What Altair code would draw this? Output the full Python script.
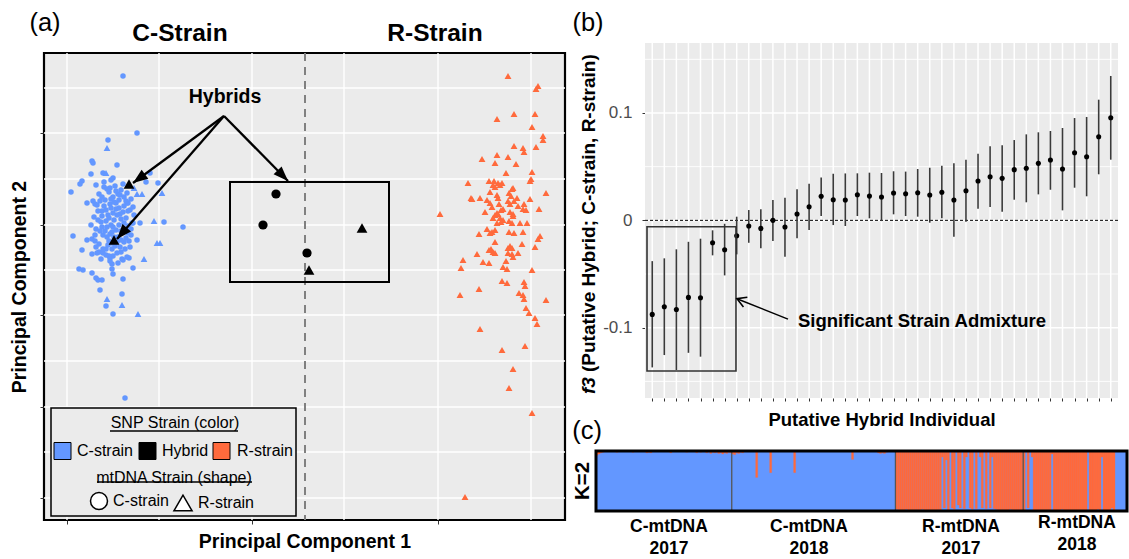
import math
import altair as alt
import pandas as pd

FONT = "Liberation Sans"
BLUE = "#6397FF"
ORANGE = "#FF6A3C"
BG = "#EBEBEB"

# ---------------- (a) PCA scores (PC1, PC2) ----------------
blue_circles = [
    (-0.129, 0.239), (-0.115, 0.182), (-0.144, 0.175), (-0.160, 0.154), (-0.159, 0.152),
    (-0.135, 0.150), (-0.161, 0.141), (-0.149, 0.142), (-0.102, 0.142), (-0.139, 0.137),
    (-0.170, 0.134), (-0.172, 0.131), (-0.181, 0.123), (-0.156, 0.130), (-0.148, 0.133),
    (-0.141, 0.135), (-0.129, 0.131), (-0.106, 0.133), (-0.094, 0.132), (-0.165, 0.112),
    (-0.159, 0.114), (-0.157, 0.111), (-0.125, 0.112), (-0.124, 0.104), (-0.120, 0.092),
    (-0.112, 0.092), (-0.088, 0.093), (-0.069, 0.088), (-0.179, 0.079), (-0.165, 0.075),
    (-0.115, 0.075), (-0.170, 0.065), (-0.160, 0.061), (-0.153, 0.063), (-0.149, 0.062),
    (-0.142, 0.057), (-0.130, 0.056), (-0.123, 0.057), (-0.140, 0.051), (-0.140, 0.046),
    (-0.139, 0.041), (-0.119, 0.047), (-0.173, 0.046), (-0.169, 0.045), (-0.160, 0.042),
    (-0.156, 0.037), (-0.154, 0.035), (-0.150, 0.035), (-0.129, 0.036), (-0.152, 0.025),
    (-0.130, 0.021), (-0.146, 0.009), (-0.139, 0.001), (-0.127, -0.083),
]
# dense core of the C-strain cluster
blue_core = [
    (-0.148, 0.128), (-0.137, 0.129), (-0.131, 0.125), (-0.143, 0.123), (-0.153, 0.121),
    (-0.125, 0.122), (-0.139, 0.118), (-0.147, 0.115), (-0.133, 0.115), (-0.121, 0.116),
    (-0.155, 0.110), (-0.142, 0.111), (-0.128, 0.109), (-0.136, 0.106), (-0.150, 0.104),
    (-0.122, 0.105), (-0.144, 0.100), (-0.132, 0.101), (-0.158, 0.098), (-0.126, 0.097),
    (-0.138, 0.095), (-0.151, 0.093), (-0.119, 0.092), (-0.133, 0.090), (-0.145, 0.088),
    (-0.156, 0.086), (-0.127, 0.085), (-0.140, 0.083), (-0.149, 0.080), (-0.121, 0.080),
    (-0.134, 0.078), (-0.160, 0.076), (-0.143, 0.074), (-0.128, 0.073), (-0.153, 0.071),
    (-0.137, 0.069), (-0.122, 0.068), (-0.146, 0.066), (-0.131, 0.063), (-0.139, 0.059),
    (-0.155, 0.062), (-0.125, 0.058), (-0.142, 0.054), (-0.134, 0.052), (-0.151, 0.056),
    (-0.141, 0.107), (-0.134, 0.121), (-0.146, 0.094), (-0.131, 0.096), (-0.139, 0.088),
    (-0.142, 0.081), (-0.135, 0.073), (-0.129, 0.103), (-0.152, 0.084), (-0.124, 0.112),
    (-0.140, 0.066), (-0.148, 0.109), (-0.156, 0.068), (-0.118, 0.100), (-0.161, 0.090),
    (-0.145, 0.126), (-0.128, 0.118), (-0.152, 0.114), (-0.136, 0.112), (-0.124, 0.089),
    (-0.157, 0.080), (-0.131, 0.084), (-0.144, 0.070), (-0.126, 0.077), (-0.150, 0.099),
    (-0.135, 0.100), (-0.141, 0.116), (-0.121, 0.086), (-0.147, 0.084), (-0.132, 0.068),
    (-0.138, 0.078), (-0.154, 0.104), (-0.127, 0.066), (-0.143, 0.059), (-0.136, 0.124),
    (-0.142, 0.127), (-0.132, 0.120), (-0.150, 0.118), (-0.138, 0.113), (-0.126, 0.114),
    (-0.146, 0.105), (-0.133, 0.107), (-0.139, 0.102), (-0.154, 0.095), (-0.128, 0.092),
    (-0.143, 0.097), (-0.136, 0.085), (-0.150, 0.088), (-0.124, 0.082), (-0.145, 0.078),
    (-0.131, 0.075), (-0.140, 0.072), (-0.149, 0.066), (-0.135, 0.062), (-0.123, 0.074),
    (-0.157, 0.074), (-0.129, 0.055), (-0.146, 0.060), (-0.119, 0.108), (-0.141, 0.090),
]
blue_triangles = [
    (-0.145, 0.167), (-0.146, 0.142), (-0.118, 0.127), (-0.115, 0.121), (-0.110, 0.121),
    (-0.090, 0.122), (-0.098, 0.094), (-0.095, 0.072), (-0.092, 0.072), (-0.108, 0.056),
    (-0.145, 0.016), (-0.130, 0.010), (-0.114, 0.001),
]
orange_triangles = [
    (0.256, 0.239), (0.286, 0.229), (0.284, 0.226), (0.245, 0.196), (0.262, 0.201),
    (0.283, 0.201), (0.280, 0.188), (0.291, 0.179), (0.291, 0.175), (0.262, 0.169),
    (0.271, 0.167), (0.272, 0.163), (0.284, 0.168), (0.230, 0.156), (0.245, 0.160),
    (0.256, 0.158), (0.243, 0.152), (0.264, 0.151), (0.254, 0.142), (0.280, 0.143),
    (0.279, 0.136), (0.278, 0.134), (0.216, 0.132), (0.237, 0.134), (0.242, 0.134),
    (0.246, 0.132), (0.250, 0.132), (0.248, 0.130), (0.243, 0.128), (0.241, 0.130),
    (0.261, 0.127), (0.260, 0.126), (0.294, 0.122), (0.219, 0.117), (0.220, 0.116),
    (0.228, 0.117), (0.238, 0.123), (0.245, 0.120), (0.257, 0.122), (0.259, 0.119),
    (0.265, 0.117), (0.278, 0.116), (0.235, 0.115), (0.238, 0.112), (0.246, 0.117),
    (0.247, 0.111), (0.256, 0.114), (0.258, 0.111), (0.262, 0.114), (0.272, 0.111),
    (0.266, 0.109), (0.240, 0.108), (0.249, 0.105), (0.251, 0.106), (0.271, 0.106),
    (0.274, 0.105), (0.287, 0.106), (0.233, 0.103), (0.258, 0.103), (0.261, 0.101),
    (0.261, 0.099), (0.243, 0.100), (0.245, 0.102), (0.246, 0.101), (0.241, 0.097),
    (0.248, 0.097), (0.251, 0.095), (0.249, 0.093), (0.257, 0.094), (0.260, 0.092),
    (0.188, 0.101), (0.268, 0.092), (0.275, 0.092), (0.245, 0.092), (0.227, 0.081),
    (0.235, 0.086), (0.238, 0.082), (0.240, 0.083), (0.243, 0.085), (0.257, 0.083),
    (0.262, 0.082), (0.271, 0.083), (0.288, 0.079), (0.286, 0.076), (0.243, 0.073),
    (0.270, 0.071), (0.283, 0.068), (0.237, 0.065), (0.239, 0.066), (0.241, 0.063),
    (0.243, 0.062), (0.256, 0.067), (0.258, 0.069), (0.260, 0.067), (0.256, 0.062),
    (0.260, 0.061), (0.261, 0.058), (0.266, 0.062), (0.225, 0.061), (0.211, 0.055),
    (0.231, 0.053), (0.237, 0.052), (0.254, 0.054), (0.251, 0.048), (0.255, 0.046),
    (0.209, 0.047), (0.280, 0.045), (0.250, 0.034), (0.255, 0.032), (0.272, 0.033),
    (0.273, 0.029), (0.227, 0.026), (0.208, 0.020), (0.267, 0.022), (0.271, 0.020),
    (0.272, 0.016), (0.294, 0.015), (0.274, 0.007), (0.277, 0.002), (0.283, -0.003),
    (0.285, -0.009), (0.228, -0.014), (0.273, -0.031), (0.250, -0.035), (0.261, -0.054),
    (0.257, -0.073), (0.280, -0.098), (0.213, -0.182),
]
hybrid_circles = [(0.024, 0.121), (0.011, 0.090), (0.055, 0.062)]
hybrid_triangles = [(0.057, 0.045), (0.110, 0.087), (-0.123, 0.131), (-0.138, 0.075)]

a_x_domain = [-0.208, 0.313]
a_y_domain = [-0.205, 0.262]
a_x_major = [-0.185, 0.0, 0.186]
a_x_minor = [-0.093, 0.092, 0.279]
a_y_major = [-0.183, -0.092, 0.0, 0.090, 0.182]
a_y_minor = [-0.137, -0.046, 0.045, 0.136, 0.227]
strain_split = [0.053]
hybrid_box = [(-0.022, 0.137, 0.033, 0.133)]
arrow_start = (-0.028, 0.199)
arrow_tips = [(-0.119, 0.132), (-0.135, 0.076), (0.036, 0.134)]
hybrids_label = [(-0.027, 0.218, "Hybrids")]

# ---------------- (b) f3 statistics ----------------
f3_est = [-0.0876, -0.0805, -0.083, -0.0718, -0.0721, -0.0209, -0.0274, -0.0143, -0.0053, -0.0075,
          0.0, -0.0062, 0.0059, 0.0127, 0.0224, 0.0192, 0.0189, 0.0239, 0.0226, 0.0217,
          0.0254, 0.0248, 0.0257, 0.0236, 0.0261, 0.0189, 0.0276, 0.0366, 0.0406, 0.0391,
          0.0472, 0.0485, 0.0531, 0.0562, 0.0478, 0.063, 0.0593, 0.0779, 0.0956]
f3_hi = [-0.038, -0.0354, -0.027, -0.020, -0.0171, -0.0093, -0.0032, 0.0034, 0.0096, 0.0103,
         0.0189, 0.021, 0.0289, 0.0341, 0.040, 0.0434, 0.0437, 0.0438, 0.0444, 0.0441,
         0.0457, 0.0454, 0.0478, 0.049, 0.0509, 0.0531, 0.0565, 0.0621, 0.069, 0.0699,
         0.0748, 0.0801, 0.082, 0.0832, 0.086, 0.0953, 0.0963, 0.1124, 0.1345]
f3_lo = [-0.137, -0.1255, -0.1395, -0.1234, -0.127, -0.0326, -0.0513, -0.0317, -0.0209, -0.0261,
         -0.0193, -0.034, -0.0168, -0.009, 0.004, -0.0044, -0.0053, 0.004, 0.0019, -0.0007,
         0.0056, 0.004, 0.0034, -0.0022, 0.0019, -0.0153, -0.0013, 0.0108, 0.0124, 0.008,
         0.0192, 0.0168, 0.0242, 0.0285, 0.0093, 0.0304, 0.0224, 0.0429, 0.0565]
b_x_domain = [0.4, 39.6]
b_y_domain = [-0.1655, 0.1652]
b_y_major = [-0.1, 0.0, 0.1]
b_y_minor = [-0.15, -0.05, 0.05, 0.15]
signif_box = [(0.566, 7.94, -0.1404, -0.006)]
signif_arrow = [(12.25, -0.092, 8.02, -0.073)]
signif_label = [(13.08, -0.0938, "Significant Strain Admixture")]

# ---------------- (c) ADMIXTURE K=2, proportion of C-strain ancestry ----------------
c_2017 = [0.93, 0.95, 0.97, 0.98, 1, 1, 1, 1, 1, 1,
          0.98, 1, 1, 1, 1, 1, 1, 1, 0.98, 1,
          1, 1, 1, 1, 1, 0.97, 0.98, 0.97, 1, 1,
          1, 1, 1, 1, 1, 1, 1, 0.97, 1, 1,
          1, 1, 1, 1, 1, 0.98, 1, 1, 1, 1,
          0.97, 1, 0.98, 1, 1, 0.97, 1, 0.96, 0.98, 0.97,
          0.98, 0.96, 0.97, 0.95, 0.97, 0.96, 0.98, 0.97]
c_2018 = [0.95, 0.94, 0.97, 0.96, 0.98, 0.97, 1, 1, 1, 1,
          1, 1, 0.56, 1, 1, 1, 1, 1, 1, 0.64,
          1, 1, 1, 1, 1, 1, 1, 1, 1, 1,
          1, 0.64, 1, 1, 1, 1, 1, 1, 1, 1,
          1, 1, 1, 1, 1, 1, 1, 1, 1, 1,
          1, 1, 1, 1, 1, 1, 1, 1, 1, 1,
          0.86, 1, 1, 1, 1, 1, 1, 1, 1, 1,
          1, 1, 1, 0.97, 0.96, 0.97, 0.96, 0.98, 1, 1,
          1, 1]
r_2017 = [0.03, 0.02, 0, 0, 0, 0.03, 0, 0, 0, 0,
          0.02, 0, 0, 0.03, 0, 0, 0, 0, 0, 0,
          0, 0.02, 0, 0.9, 0.05, 0.85, 0, 1, 0.05, 0.03,
          1, 0.1, 0.05, 1, 0.04, 0.9, 1, 0.05, 0.03, 1,
          0.04, 1, 0.9, 0.05, 1, 0.04, 1, 0.05, 0.9, 0.04,
          0.03, 0.02, 0, 0.02, 0, 0, 0, 0.03, 0.02, 0,
          0, 0, 0, 0]
r_2018 = [0, 1, 0.05, 1, 0.9, 0, 0, 0, 0, 0,
          0, 0, 0, 0, 0.95, 0, 0, 0, 0, 0.03,
          0, 0, 0, 0, 0, 0, 0, 0, 0, 0,
          0, 0, 1, 0, 0, 0, 0, 0.03, 0, 0.9,
          0, 0, 0, 0, 0.05, 0, 1, 1, 1, 1,
          1, 1]
group_names = ["C-mtDNA\n2017", "C-mtDNA\n2018", "R-mtDNA\n2017", "R-mtDNA\n2018"]

# ====================== helpers ======================
def one(**kw):
    return pd.DataFrame({k: [v] for k, v in kw.items()})


def txt(text, x, y, size, weight="normal", angle=0, align="center", baseline="middle",
        style="normal", line_height=None):
    kw = dict(fontSize=size, fontWeight=weight, angle=angle, align=align, baseline=baseline,
              fontStyle=style, color="black", font=FONT)
    if line_height:
        kw["lineBreak"] = "\n"
        kw["lineHeight"] = line_height
    return alt.Chart(one(t=text)).mark_text(**kw).encode(
        x=alt.value(x), y=alt.value(y), text="t:N")


# ====================== panel (a) ======================
A_W, A_H = 521, 467
SXA = alt.Scale(domain=a_x_domain, nice=False, zero=False)
SYA = alt.Scale(domain=a_y_domain, nice=False, zero=False)
AXA_X = alt.Axis(values=a_x_major, labels=False, domain=False, grid=False, tickSize=4,
                 tickColor="#333333", tickWidth=1, title="Principal Component 1",
                 titleFontSize=19.5, titleFontWeight="bold", titlePadding=8, titleColor="black")
AXA_Y = alt.Axis(values=a_y_major, labels=False, domain=False, grid=False, tickSize=4,
                 tickColor="#333333", tickWidth=1, title="Principal Component 2",
                 titleFontSize=19.5, titleFontWeight="bold", titlePadding=10, titleColor="black")


def XA(f):
    return alt.X(f, type="quantitative", scale=SXA, axis=AXA_X)


def YA(f):
    return alt.Y(f, type="quantitative", scale=SYA, axis=AXA_Y)


rows = []
for x, y in blue_circles + blue_core:
    rows.append(dict(pc1=x, pc2=y, snp="C-strain", mt="C-strain", sz=30))
for x, y in blue_triangles:
    rows.append(dict(pc1=x, pc2=y, snp="C-strain", mt="R-strain", sz=45))
for x, y in orange_triangles:
    rows.append(dict(pc1=x, pc2=y, snp="R-strain", mt="R-strain", sz=48))
for x, y in hybrid_circles:
    rows.append(dict(pc1=x, pc2=y, snp="Hybrid", mt="C-strain", sz=85))
for x, y in hybrid_triangles:
    rows.append(dict(pc1=x, pc2=y, snp="Hybrid", mt="R-strain", sz=115))
pts = pd.DataFrame(rows)

grid_v = alt.Chart(pd.DataFrame({"v": a_x_major + a_x_minor})).mark_rule(
    color="white", strokeWidth=1.4).encode(x=XA("v"))
grid_h = alt.Chart(pd.DataFrame({"v": a_y_major + a_y_minor})).mark_rule(
    color="white", strokeWidth=1.4).encode(y=YA("v"))
split = alt.Chart(pd.DataFrame({"v": strain_split})).mark_rule(
    color="#808080", strokeWidth=2, strokeDash=[8, 6]).encode(x=XA("v"))

points = alt.Chart(pts).mark_point(filled=True, opacity=1, strokeWidth=0).encode(
    x=XA("pc1"), y=YA("pc2"),
    color=alt.Color("snp:N", scale=alt.Scale(domain=["C-strain", "Hybrid", "R-strain"],
                                             range=[BLUE, "black", ORANGE]), legend=None),
    shape=alt.Shape("mt:N", scale=alt.Scale(domain=["C-strain", "R-strain"],
                                            range=["circle", "triangle-up"]), legend=None),
    size=alt.Size("sz:Q", scale=None),
)

box_df = pd.DataFrame(hybrid_box, columns=["x0", "x1", "y0", "y1"])
hyb_box = alt.Chart(box_df).mark_rect(fillOpacity=0, stroke="black", strokeWidth=2).encode(
    x=XA("x0"), x2="x1", y=YA("y0"), y2="y1")

arr_rows = []
for tx, ty in arrow_tips:
    ang = math.degrees(math.atan2(tx - arrow_start[0], ty - arrow_start[1])) % 360
    arr_rows.append(dict(x0=arrow_start[0], y0=arrow_start[1], x1=tx, y1=ty, ang=ang))
arr_df = pd.DataFrame(arr_rows)
arr_lines = alt.Chart(arr_df).mark_rule(color="black", strokeWidth=2.3).encode(
    x=XA("x0"), y=YA("y0"), x2="x1", y2="y1")
arr_heads = alt.Chart(arr_df).mark_point(
    shape="M0,0L0.55,1.45L-0.55,1.45Z", filled=True, color="black", opacity=1, size=420,
    strokeWidth=0).encode(x=XA("x1"), y=YA("y1"), angle=alt.Angle("ang:Q", scale=None))

hyb_lab = alt.Chart(pd.DataFrame(hybrids_label, columns=["x", "y", "t"])).mark_text(
    fontSize=19.5, fontWeight="bold", color="black").encode(x=XA("x"), y=YA("y"), text="t:N")

# legend box drawn inside panel (a)
leg_box = alt.Chart(one(x0=-0.201, x1=0.044, y0=-0.093, y1=-0.201)).mark_rect(
    fill=BG, stroke="black", strokeWidth=1.5).encode(x=XA("x0"), x2="x1", y=YA("y0"), y2="y1")
leg_text_df = pd.DataFrame([
    (-0.077, -0.1075, "SNP Strain (color)", "center"),
    (-0.078, -0.1625, "mtDNA Strain (shape)", "center"),
    (-0.175, -0.136, "C-strain", "left"),
    (-0.090, -0.136, "Hybrid", "left"),
    (-0.015, -0.136, "R-strain", "left"),
    (-0.139, -0.186, "C-strain", "left"),
    (-0.054, -0.188, "R-strain", "left"),
], columns=["x", "y", "t", "al"])
leg_text_c = alt.Chart(leg_text_df[leg_text_df.al == "center"]).mark_text(
    fontSize=16, color="black").encode(x=XA("x"), y=YA("y"), text="t:N")
leg_text_l = alt.Chart(leg_text_df[leg_text_df.al == "left"]).mark_text(
    fontSize=16, color="black", align="left").encode(x=XA("x"), y=YA("y"), text="t:N")
leg_ul = alt.Chart(pd.DataFrame([(-0.142, -0.014, -0.116), (-0.155, 0.000, -0.167)],
                                columns=["x0", "x1", "y"])).mark_rule(
    color="black", strokeWidth=1.5).encode(x=XA("x0"), x2="x1", y=YA("y"))
leg_sq = alt.Chart(pd.DataFrame([(-0.1895, "C-strain"), (-0.1045, "Hybrid"), (-0.0305, "R-strain")],
                                columns=["x", "snp"]).assign(y=-0.136)).mark_square(
    size=289, opacity=1, stroke="black", strokeWidth=1).encode(
    x=XA("x"), y=YA("y"),
    fill=alt.Fill("snp:N", scale=alt.Scale(domain=["C-strain", "Hybrid", "R-strain"],
                                           range=[BLUE, "black", ORANGE]), legend=None))
leg_circ = alt.Chart(one(x=-0.153, y=-0.186)).mark_point(
    shape="circle", size=289, filled=True, fill="white", stroke="black", strokeWidth=1.5,
    opacity=1).encode(x=XA("x"), y=YA("y"))
leg_tri = alt.Chart(one(x=-0.069, y=-0.188)).mark_point(
    shape="triangle-up", size=330, filled=True, fill="white", stroke="black", strokeWidth=1.5,
    opacity=1).encode(x=XA("x"), y=YA("y"))

panel_a = alt.layer(
    grid_v, grid_h, split, points, hyb_box, arr_lines, arr_heads, hyb_lab,
    leg_box, leg_ul, leg_text_c, leg_text_l, leg_sq, leg_circ, leg_tri,
    txt("(a)", 1, -30, 25.5),
    txt("C-Strain", 136, -19, 24.5, weight="bold"),
    txt("R-Strain", 391, -19, 24.5, weight="bold"),
).properties(width=A_W, height=A_H,
             view=alt.ViewBackground(fill=BG, stroke="black", strokeWidth=2.2))

# ====================== panel (b) ======================
B_W, B_H = 473, 345
SXB = alt.Scale(domain=b_x_domain, nice=False, zero=False)
SYB = alt.Scale(domain=b_y_domain, range=[B_H, -10], nice=False, zero=False)
AXB_X = alt.Axis(values=list(range(1, len(f3_est) + 1)), labels=False, domain=False, grid=False,
                 tickSize=3, tickColor="#333333", title="Putative Hybrid Individual",
                 titleFontSize=18.5, titleFontWeight="bold", titlePadding=9, titleColor="black")
AXB_Y = alt.Axis(values=b_y_major, domain=False, grid=False, tickSize=3, tickColor="#333333",
                 labelFontSize=17, labelColor="#4D4D4D", labelPadding=10, title="",
                 labelExpr="datum.value > 0.05 ? '0.1' : (datum.value < -0.05 ? '-0.1' : '0')")


def XB(f):
    return alt.X(f, type="quantitative", scale=SXB, axis=AXB_X)


def YB(f):
    return alt.Y(f, type="quantitative", scale=SYB, axis=AXB_Y)


b_bg = alt.Chart(one(x0=b_x_domain[0], x1=b_x_domain[1], y0=b_y_domain[0], y1=b_y_domain[1])
                 ).mark_rect(fill=BG).encode(x=XB("x0"), x2="x1", y=YB("y0"), y2="y1")
ind = list(range(1, len(f3_est) + 1))
f3 = pd.DataFrame({"i": ind, "est": f3_est, "lo": f3_lo, "hi": f3_hi})
b_gv = alt.Chart(pd.DataFrame({"i": ind})).mark_rule(color="white", strokeWidth=1.5).encode(
    x=XB("i"), y=alt.YDatum(b_y_domain[0], scale=SYB, axis=AXB_Y), y2=alt.Y2Datum(b_y_domain[1]))
b_gh_major = alt.Chart(pd.DataFrame({"v": b_y_major})).mark_rule(
    color="white", strokeWidth=1.6).encode(
    y=YB("v"), x=alt.XDatum(b_x_domain[0], scale=SXB, axis=AXB_X), x2=alt.X2Datum(b_x_domain[1]))
b_gh_minor = alt.Chart(pd.DataFrame({"v": b_y_minor})).mark_rule(
    color="white", strokeWidth=0.9).encode(
    y=YB("v"), x=alt.XDatum(b_x_domain[0], scale=SXB, axis=AXB_X), x2=alt.X2Datum(b_x_domain[1]))
b_zero = alt.Chart(pd.DataFrame({"v": [0.0]})).mark_rule(
    color="black", strokeWidth=1, strokeDash=[3, 2]).encode(
    y=YB("v"), x=alt.XDatum(b_x_domain[0], scale=SXB, axis=AXB_X), x2=alt.X2Datum(b_x_domain[1]))
b_err = alt.Chart(f3).mark_rule(color="#3a3a3a", strokeWidth=1.6).encode(
    x=XB("i"), y=YB("lo"), y2="hi")
b_pts = alt.Chart(f3).mark_circle(color="black", size=26, opacity=1).encode(
    x=XB("i"), y=YB("est"))
sb = pd.DataFrame(signif_box, columns=["x0", "x1", "y0", "y1"])
b_box = alt.Chart(sb).mark_rect(fillOpacity=0, stroke="#333333", strokeWidth=1.6).encode(
    x=XB("x0"), x2="x1", y=YB("y0"), y2="y1")
sa_rows = []
for x0, y0, x1, y1 in signif_arrow:
    ang = math.degrees(math.atan2((x1 - x0) * (B_W / (b_x_domain[1] - b_x_domain[0])),
                                  (y1 - y0) * ((B_H + 10) / (b_y_domain[1] - b_y_domain[0])))) % 360
    sa_rows.append(dict(x0=x0, y0=y0, x1=x1, y1=y1, ang=ang))
sa = pd.DataFrame(sa_rows)
b_arr = alt.Chart(sa).mark_rule(color="black", strokeWidth=1.5).encode(
    x=XB("x0"), y=YB("y0"), x2="x1", y2="y1")
b_head = alt.Chart(sa).mark_point(shape="M-0.75,1.3L0,0L0.75,1.3", filled=False, stroke="black",
                                  strokeWidth=1.6, size=196, opacity=1).encode(
    x=XB("x1"), y=YB("y1"), angle=alt.Angle("ang:Q", scale=None))
b_lab = alt.Chart(pd.DataFrame(signif_label, columns=["x", "y", "t"])).mark_text(
    fontSize=18.5, fontWeight="bold", color="black", align="left").encode(
    x=XB("x"), y=YB("y"), text="t:N")

panel_b = alt.layer(
    b_bg, b_gv, b_gh_minor, b_gh_major, b_zero, b_err, b_pts, b_box, b_arr, b_head, b_lab,
    txt("f3", -56, 341, 19, weight="bold", angle=270, align="left", style="italic"),
    txt("(Putative Hybrid; C-strain, R-strain)", -56, 319, 19, weight="bold", angle=270,
        align="left"),
    txt("(b)", -57, -30, 25.5),
).properties(width=B_W, height=B_H)

# ====================== panel (c) ======================
C_H = 60
groups = [c_2017, c_2018, r_2017, r_2018]
qc = [v for g in groups for v in g]
N = len(qc)
SXC = alt.Scale(domain=[0, N], range=[-49, 482], nice=False, zero=False)
SYC = alt.Scale(domain=[0, 1], nice=False, zero=False)
cdf = pd.DataFrame({"i": list(range(N)), "qc": qc})
cdf["i2"] = cdf["i"] + 1
cdf["top"] = 1.0
bounds_idx = []
acc = 0
for g in groups[:-1]:
    acc += len(g)
    bounds_idx.append(acc)

c_blue = alt.Chart(one(x0=0, x1=N, y0=0, y1=1)).mark_rect(color=BLUE).encode(
    x=alt.X("x0:Q", scale=SXC, axis=None), x2="x1", y=alt.Y("y0:Q", scale=SYC, axis=None), y2="y1")
c_or = alt.Chart(cdf[cdf.qc < 1]).mark_rect(color=ORANGE, stroke=ORANGE, strokeWidth=0.3).encode(
    x=alt.X("i:Q", scale=SXC, axis=None), x2="i2",
    y=alt.Y("qc:Q", scale=SYC, axis=None), y2="top")
c_sep = alt.Chart(pd.DataFrame({"b": bounds_idx})).mark_rule(color="#555555", strokeWidth=1.3).encode(
    x=alt.X("b:Q", scale=SXC, axis=None))
c_frame = alt.Chart(one(x0=0, x1=N, y0=0, y1=1)).mark_rect(
    fillOpacity=0, stroke="black", strokeWidth=3).encode(
    x=alt.X("x0:Q", scale=SXC, axis=None), x2="x1", y=alt.Y("y0:Q", scale=SYC, axis=None), y2="y1")

panel_c = alt.layer(
    c_blue, c_or, c_sep, c_frame,
    txt("K=2", -62, 30, 20.5, weight="bold", angle=270),
    txt("(c)", -58, -20, 25.5),
    txt(group_names[0], 24, 67, 17.5, weight="bold", baseline="top", line_height=22),
    txt(group_names[1], 164, 67, 17.5, weight="bold", baseline="top", line_height=22),
    txt(group_names[2], 316, 67, 17.5, weight="bold", baseline="top", line_height=22),
    txt(group_names[3], 432, 63, 17.5, weight="bold", baseline="top", line_height=22),
).properties(width=B_W, height=C_H)

right = alt.vconcat(panel_b, panel_c, spacing=53, bounds="flush")
chart = alt.hconcat(panel_a, right, spacing=80, bounds="flush").properties(
    padding={"left": 8, "top": 9, "right": 0, "bottom": 0}, background="white"
).configure(font=FONT).configure_view(strokeWidth=0)

chart.save("out.html", embed_options={"renderer": "svg", "actions": False})
